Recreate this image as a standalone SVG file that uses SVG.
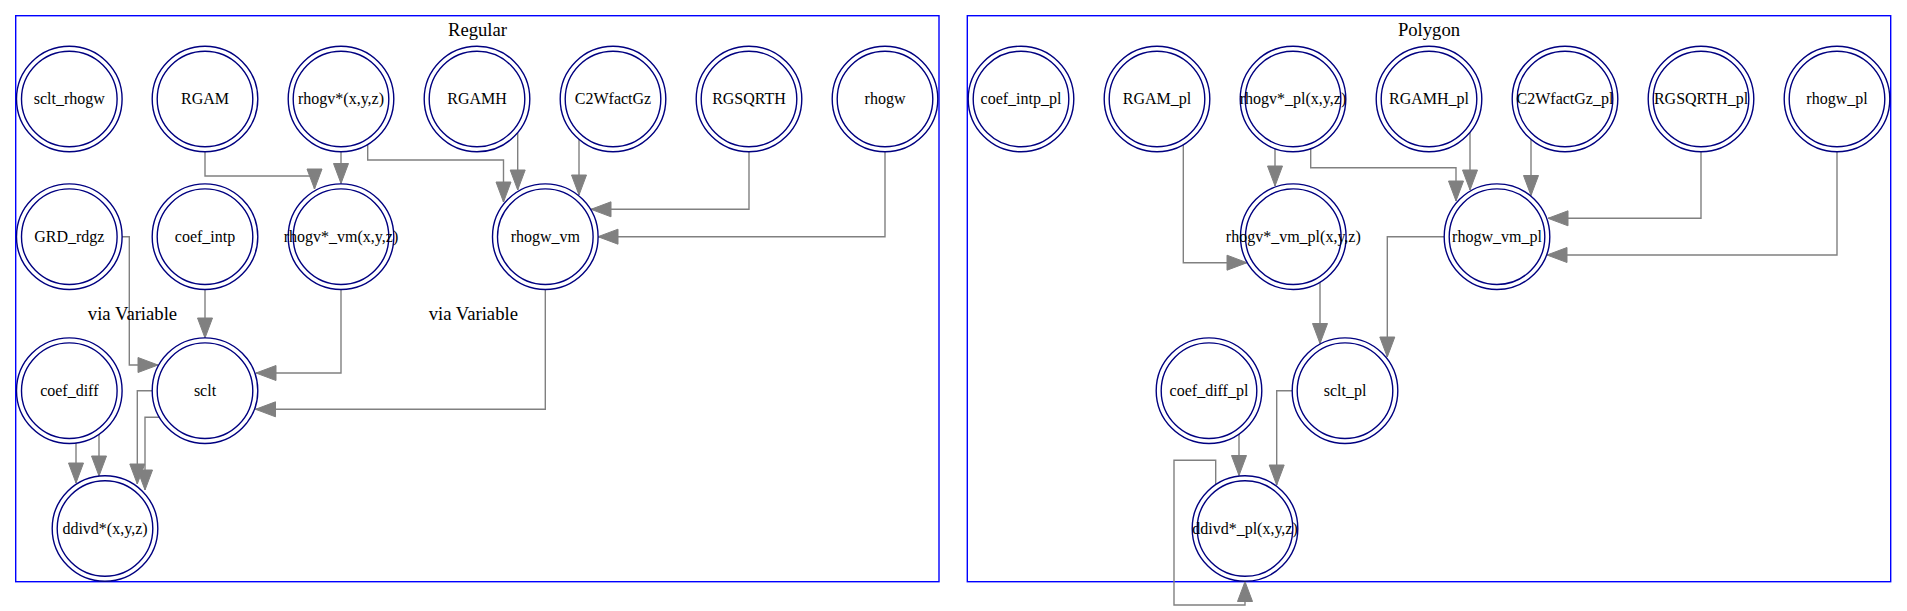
<svg xmlns="http://www.w3.org/2000/svg" width="1907" height="611" viewBox="0 0 1907 611">
<style>
.cl{fill:none;stroke:#0000ff;stroke-width:1.4}
.ct{font-family:"Liberation Serif","Times New Roman",serif;font-size:18.67px;text-anchor:middle;fill:#000}
.el{font-family:"Liberation Serif","Times New Roman",serif;font-size:18.67px;text-anchor:middle;fill:#000}
.n text{font-family:"Liberation Serif","Times New Roman",serif;font-size:16px;text-anchor:middle;fill:#000}
.e path{fill:none;stroke:#808080;stroke-width:1.4;marker-end:url(#ah)}
</style>
<defs>
<marker id="ah" markerUnits="userSpaceOnUse" markerWidth="21" markerHeight="16" refX="20" refY="7.5" orient="auto" overflow="visible">
<path d="M0,0 L20,7.5 L0,15 z" fill="#808080" stroke="#808080" stroke-width="1"/>
</marker>
<g id="dc" fill="none" stroke="#000080" stroke-width="1.4"><circle r="52.8"/><circle r="47.8"/></g>
</defs>
<rect width="1907" height="611" fill="#fff"/>

<g id="cluster_regular">
<rect class="cl" x="15.7" y="15.7" width="923.3" height="566"/>
<text class="ct" x="477.5" y="36">Regular</text>
</g>
<g id="cluster_polygon">
<rect class="cl" x="967.3" y="15.7" width="923.4" height="566"/>
<text class="ct" x="1429" y="36">Polygon</text>
</g>

<g id="edges" class="e">
<path d="M205,152 V176 H314.5 V189"/>
<path d="M341,152 V183.5"/>
<path d="M367.7,145 V160 H503.5 V202"/>
<path d="M517.7,133 V190"/>
<path d="M579,139.5 V195"/>
<path d="M749,152 V209.3 H591"/>
<path d="M885,152 V236.7 H598"/>
<path d="M122,236.7 H129.3 V365 H158"/>
<path d="M205,289.5 V338"/>
<path d="M341,289.5 V373 H256"/>
<path d="M545.3,289.5 V409.3 H255.5"/>
<path d="M152.2,390.7 H137.3 V484"/>
<path d="M159.4,417.3 H145 V490"/>
<path d="M76,443 V483"/>
<path d="M99,434.5 V476"/>

<path d="M1275,148.6 V186"/>
<path d="M1183.3,145 V262.7 H1247"/>
<path d="M1310.7,148.7 V167.7 H1456 V201"/>
<path d="M1470,132.5 V190"/>
<path d="M1531,139.5 V195.5"/>
<path d="M1701,152 V218.3 H1548"/>
<path d="M1837,152 V255 H1547"/>
<path d="M1444.2,236.7 H1387.3 V357"/>
<path d="M1320,282.3 V343.5"/>
<path d="M1239,434 V475.5"/>
<path d="M1292.2,390.7 H1276.7 V485"/>
<path d="M1215.7,484.6 V460.3 H1174 V605 H1245 V581.5"/>
</g>

<g id="via_variable_1"><text class="el" x="132.5" y="320">via Variable</text></g>
<g id="via_variable_2"><text class="el" x="473.3" y="320">via Variable</text></g>

<g id="sclt_rhogw" class="n"><use href="#dc" x="69.3" y="99"/><text x="69.3" y="104">sclt_rhogw</text></g>
<g id="RGAM" class="n"><use href="#dc" x="205" y="99"/><text x="205" y="104">RGAM</text></g>
<g id="rhogv_xyz" class="n"><use href="#dc" x="341" y="99"/><text x="341" y="104">rhogv*(x,y,z)</text></g>
<g id="RGAMH" class="n"><use href="#dc" x="477" y="99"/><text x="477" y="104">RGAMH</text></g>
<g id="C2WfactGz" class="n"><use href="#dc" x="613" y="99"/><text x="613" y="104">C2WfactGz</text></g>
<g id="RGSQRTH" class="n"><use href="#dc" x="749" y="99"/><text x="749" y="104">RGSQRTH</text></g>
<g id="rhogw" class="n"><use href="#dc" x="885" y="99"/><text x="885" y="104">rhogw</text></g>
<g id="GRD_rdgz" class="n"><use href="#dc" x="69.3" y="236.7"/><text x="69.3" y="241.7">GRD_rdgz</text></g>
<g id="coef_intp" class="n"><use href="#dc" x="205" y="236.7"/><text x="205" y="241.7">coef_intp</text></g>
<g id="rhogv_vm_xyz" class="n"><use href="#dc" x="341" y="236.7"/><text x="341" y="241.7">rhogv*_vm(x,y,z)</text></g>
<g id="rhogw_vm" class="n"><use href="#dc" x="545.3" y="236.7"/><text x="545.3" y="241.7">rhogw_vm</text></g>
<g id="coef_diff" class="n"><use href="#dc" x="69.3" y="390.7"/><text x="69.3" y="395.7">coef_diff</text></g>
<g id="sclt" class="n"><use href="#dc" x="205" y="390.7"/><text x="205" y="395.7">sclt</text></g>
<g id="ddivd_xyz" class="n"><use href="#dc" x="105" y="528.5"/><text x="105" y="533.5">ddivd*(x,y,z)</text></g>

<g id="coef_intp_pl" class="n"><use href="#dc" x="1021" y="99"/><text x="1021" y="104">coef_intp_pl</text></g>
<g id="RGAM_pl" class="n"><use href="#dc" x="1157" y="99"/><text x="1157" y="104">RGAM_pl</text></g>
<g id="rhogv_pl_xyz" class="n"><use href="#dc" x="1293" y="99"/><text x="1293" y="104">rhogv*_pl(x,y,z)</text></g>
<g id="RGAMH_pl" class="n"><use href="#dc" x="1429" y="99"/><text x="1429" y="104">RGAMH_pl</text></g>
<g id="C2WfactGz_pl" class="n"><use href="#dc" x="1565" y="99"/><text x="1565" y="104">C2WfactGz_pl</text></g>
<g id="RGSQRTH_pl" class="n"><use href="#dc" x="1701" y="99"/><text x="1701" y="104">RGSQRTH_pl</text></g>
<g id="rhogw_pl" class="n"><use href="#dc" x="1837" y="99"/><text x="1837" y="104">rhogw_pl</text></g>
<g id="rhogv_vm_pl_xyz" class="n"><use href="#dc" x="1293.3" y="236.7"/><text x="1293.3" y="241.7">rhogv*_vm_pl(x,y,z)</text></g>
<g id="rhogw_vm_pl" class="n"><use href="#dc" x="1497" y="236.7"/><text x="1497" y="241.7">rhogw_vm_pl</text></g>
<g id="coef_diff_pl" class="n"><use href="#dc" x="1209" y="390.7"/><text x="1209" y="395.7">coef_diff_pl</text></g>
<g id="sclt_pl" class="n"><use href="#dc" x="1345" y="390.7"/><text x="1345" y="395.7">sclt_pl</text></g>
<g id="ddivd_pl_xyz" class="n"><use href="#dc" x="1245" y="528.5"/><text x="1245" y="533.5">ddivd*_pl(x,y,z)</text></g>
</svg>
